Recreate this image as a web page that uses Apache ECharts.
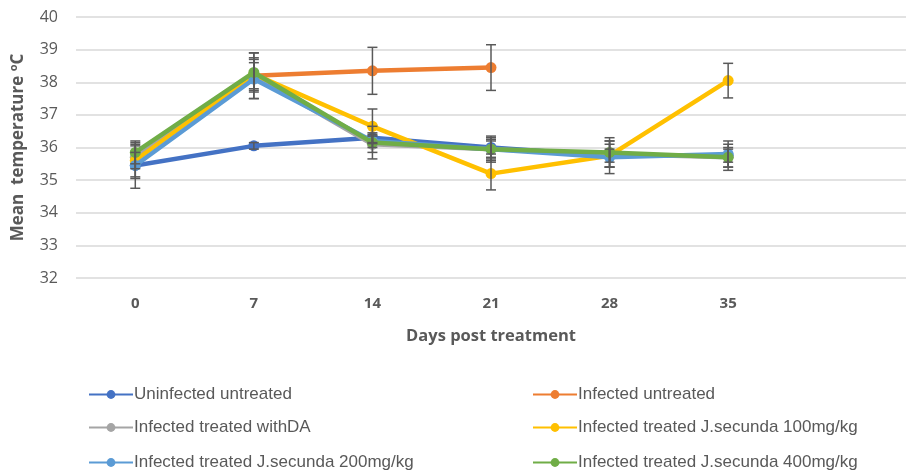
<!DOCTYPE html>
<html>
<head>
<meta charset="utf-8">
<script src="https://cdn.jsdelivr.net/npm/echarts@6/dist/echarts.min.js"></script>
<style>
  html, body { margin: 0; padding: 0; background: #fff; }
  #chart { width: 906px; height: 470px; }
</style>
</head>
<body>
<div id="chart"></div>
<script>
// days post treatment (last slot empty, like the excel plot area)
const days = ['0', '7', '14', '21', '28', '35', '']

const uninfected = [35.45, 36.05, 36.3, 36.0, 35.75, 35.75]
const infected = [null, 38.2, 38.35, 38.45, null, null]
const treatedDA = [35.7, 38.2, 36.1, 35.95, 35.8, 35.7]
const secunda100 = [35.6, 38.25, 36.65, 35.2, 35.75, 38.05]
const secunda200 = [35.45, 38.1, 36.2, 35.95, 35.7, 35.8]
const secunda400 = [35.85, 38.3, 36.15, 35.95, 35.85, 35.7]

// +/- error
const uninfectedErr = [0.4, 0.1, 0.15, 0.2, 0.2, 0.2]
const infectedErr = [null, 0.7, 0.72, 0.7, null, null]
const treatedDAErr = [0.35, 0.4, 0.25, 0.3, 0.4, 0.3]
const secunda100Err = [0.5, 0.5, 0.53, 0.5, 0.35, 0.53]
const secunda200Err = [0.7, 0.6, 0.2, 0.35, 0.5, 0.4]
const secunda400Err = [0.35, 0.6, 0.5, 0.4, 0.45, 0.4]

const names = [
  'Uninfected untreated',
  'Infected untreated',
  'Infected treated withDA',
  'Infected treated J.secunda 100mg/kg',
  'Infected treated J.secunda 200mg/kg',
  'Infected treated J.secunda 400mg/kg'
]
const colors = ['#4472C4', '#ED7D31', '#A5A5A5', '#FFC000', '#5B9BD5', '#70AD47']
const values = [uninfected, infected, treatedDA, secunda100, secunda200, secunda400]
const errors = [uninfectedErr, infectedErr, treatedDAErr, secunda100Err, secunda200Err, secunda400Err]

const lineSeries = names.map((name, i) => ({
  name: name,
  type: 'line',
  data: values[i],
  symbol: 'circle',
  symbolSize: 11,
  connectNulls: false,
  itemStyle: { color: colors[i] },
  lineStyle: { color: colors[i], width: 4.5 },
  z: 2 + i
}))

const errorSeries = values.map((vals, i) => ({
  type: 'custom',
  name: names[i] + ' err',
  silent: true,
  z: 20,
  data: vals.map((v, k) => (v == null || errors[i][k] == null) ? null : [k, v - errors[i][k], v + errors[i][k]])
    .filter(d => d),
  renderItem: function (params, api) {
    const lo = api.coord([api.value(0), api.value(1)])
    const hi = api.coord([api.value(0), api.value(2)])
    const w = 5
    const style = { stroke: '#595959', lineWidth: 1.5 }
    return {
      type: 'group',
      children: [
        { type: 'line', shape: { x1: lo[0], y1: lo[1], x2: hi[0], y2: hi[1] }, style: style },
        { type: 'line', shape: { x1: lo[0] - w, y1: lo[1], x2: lo[0] + w, y2: lo[1] }, style: style },
        { type: 'line', shape: { x1: hi[0] - w, y1: hi[1], x2: hi[0] + w, y2: hi[1] }, style: style }
      ]
    }
  }
}))

// one legend per entry, 2 columns x 3 rows
const legendLeft = [88, 532]
const legendTop = [386, 419, 454]
const legends = names.map((name, i) => ({
  data: [name],
  left: legendLeft[i % 2],
  top: legendTop[Math.floor(i / 2)],
  padding: 0,
  itemWidth: 44,
  itemHeight: 11,
  itemGap: 0,
  textStyle: {
    color: '#595959',
    fontSize: 17,
    fontFamily: 'Liberation Sans Narrow, sans-serif',
    padding: [0, 0, 0, -4]
  }
}))

const chart = echarts.init(document.getElementById('chart'))
chart.setOption({
  animation: false,
  textStyle: { fontFamily: 'Open Sans, sans-serif' },
  grid: { left: 76, right: -8, top: 17, bottom: 192 },
  legend: legends,
  xAxis: {
    type: 'category',
    data: days,
    boundaryGap: true,
    name: 'Days post treatment',
    nameLocation: 'middle',
    nameGap: 50,
    nameTextStyle: { color: '#595959', fontSize: 16.5, fontWeight: 'bold' },
    axisLine: { show: false },
    axisTick: { show: false },
    axisLabel: { color: '#595959', fontSize: 15, fontWeight: 'bold', margin: 18 }
  },
  yAxis: {
    type: 'value',
    min: 32,
    max: 40,
    interval: 1,
    name: 'Mean  temperature {sup|o}C',
    nameLocation: 'middle',
    nameGap: 48,
    nameTextStyle: {
      color: '#595959',
      fontSize: 17,
      fontWeight: 'bold',
      rich: {
        sup: { fontSize: 11, fontWeight: 'bold', color: '#595959', verticalAlign: 'top', padding: [0, 0, 9, 0] }
      }
    },
    axisLine: { show: false },
    axisTick: { show: false },
    axisLabel: { color: '#595959', fontSize: 16, margin: 18 },
    splitLine: { lineStyle: { color: '#D9D9D9', width: 1.5 } }
  },
  series: lineSeries.concat(errorSeries)
})
</script>
</body>
</html>
